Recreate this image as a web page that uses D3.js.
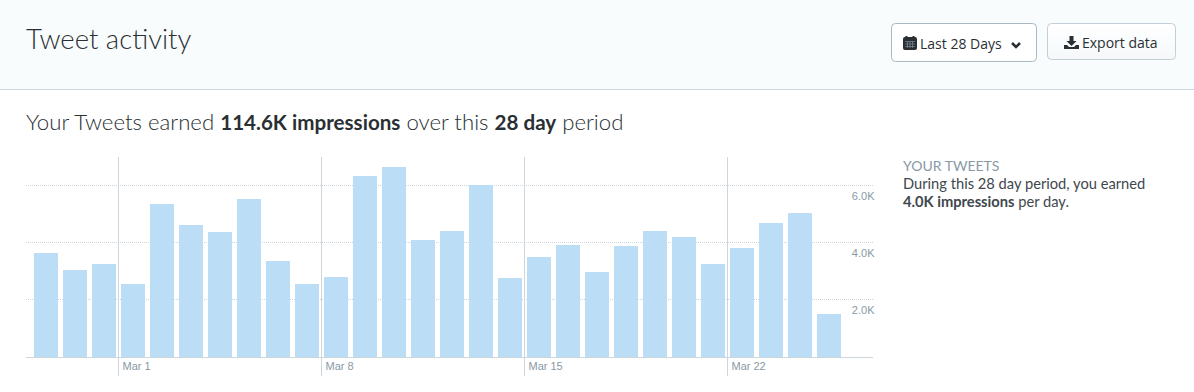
<!DOCTYPE html>
<html>
<head>
<meta charset="utf-8">
<script src="https://cdnjs.cloudflare.com/ajax/libs/d3/7.8.5/d3.min.js"></script>
<style>
    html, body { margin: 0; padding: 0; background: #fff; overflow: hidden; }
    svg { display: block; }
    .head { font-family: Lato, sans-serif; fill: #292f33; }
    .tick text { font-family: "Liberation Sans", Arial, sans-serif; font-size: 11px; fill: #8899a6; }
    .btn { font-family: "Open Sans", sans-serif; font-size: 14px; font-weight: 500; fill: #292f33; }
    .note { font-family: Lato, sans-serif; font-size: 14.7px; fill: #40484d; }
</style>
</head>
<body>
<svg id="chart" width="1194" height="392"></svg>
<script>
const days = ["Feb 26", "Feb 27", "Feb 28", "Mar 1", "Mar 2", "Mar 3", "Mar 4", "Mar 5", "Mar 6", "Mar 7",
    "Mar 8", "Mar 9", "Mar 10", "Mar 11", "Mar 12", "Mar 13", "Mar 14", "Mar 15", "Mar 16", "Mar 17",
    "Mar 18", "Mar 19", "Mar 20", "Mar 21", "Mar 22", "Mar 23", "Mar 24", "Mar 25"];
const impressions = [3650, 3050, 3260, 2560, 5370, 4630, 4390, 5540, 3370, 2560,
    2810, 6350, 6670, 4110, 4420, 6040, 2770, 3510, 3930, 2980,
    3900, 4420, 4210, 3260, 3820, 4700, 5050, 1510];
const weekTicks = ["Mar 1", "Mar 8", "Mar 15", "Mar 22"];
const valueTicks = [2000, 4000, 6000];

const svg = d3.select("#chart");

const grad = svg.append("defs").append("linearGradient").attr("id", "btnFill")
    .attr("x1", 0).attr("x2", 0).attr("y1", 0).attr("y2", 1);
grad.append("stop").attr("offset", 0).attr("stop-color", "#ffffff");
grad.append("stop").attr("offset", 1).attr("stop-color", "#f5f8fa");

// header band
svg.append("rect").attr("width", 1194).attr("height", 89.5).attr("fill", "#f9fcfd");
svg.append("line").attr("x1", 0).attr("x2", 1194).attr("y1", 89.5).attr("y2", 89.5).attr("stroke", "#ccd6dd");

svg.append("text").attr("class", "head").attr("x", 26).attr("y", 49)
    .attr("font-size", 27.5).attr("font-weight", 300).text("Tweet activity");

const summary = svg.append("text").attr("class", "head").attr("x", 26).attr("y", 130)
    .attr("font-size", 22.2).attr("font-weight", 300);
summary.append("tspan").text("Your Tweets earned ");
summary.append("tspan").attr("font-weight", 700).attr("font-size", 20.6).text("114.6K impressions");
summary.append("tspan").text(" over this ");
summary.append("tspan").attr("font-weight", 700).attr("font-size", 20.6).text("28 day");
summary.append("tspan").text(" period");

// buttons
svg.append("rect").attr("x", 891.5).attr("y", 23.5).attr("width", 145).attr("height", 38).attr("rx", 4)
    .attr("fill", "#fff").attr("stroke", "#a9b8c2");
svg.append("text").attr("class", "btn").attr("x", 920).attr("y", 49).text("Last 28 Days");
svg.append("path").attr("d", "M1012 43l4 4l4 -4").attr("fill", "none").attr("stroke", "#292f33").attr("stroke-width", 2.6);
const cal = svg.append("g").attr("transform", "translate(903,36)");
cal.append("rect").attr("y", 1).attr("width", 14).attr("height", 13).attr("rx", 2).attr("fill", "#292f33");
cal.append("path").attr("d", "M3.5 0v3M10.5 0v3").attr("stroke", "#292f33").attr("stroke-width", 2);
cal.append("path").attr("d", "M2 5.5h10M2 8h10M2 10.5h10M4.5 5v7M7 5v7M9.5 5v7").attr("stroke", "#8899a6").attr("stroke-width", 0.6);

svg.append("rect").attr("x", 1047.5).attr("y", 23.5).attr("width", 128).attr("height", 36).attr("rx", 4)
    .attr("fill", "url(#btnFill)").attr("stroke", "#c3ced6");
svg.append("text").attr("class", "btn").attr("x", 1082).attr("y", 48).text("Export data");
svg.append("path").attr("transform", "translate(1064,36)")
    .attr("d", "M5.5 0h4v5h3l-5 5l-5 -5h3zM0 9h3l2 2h5l2 -2h3v4h-15z").attr("fill", "#292f33");

// chart
const x = d3.scaleBand().domain(days).range([34, 841]).paddingInner(5 / 29).paddingOuter(0);
const y = d3.scaleLinear().domain([0, 7000]).rangeRound([357, 157.5]);

svg.append("g").selectAll("line").data(valueTicks).join("line")
    .attr("x1", 26).attr("x2", 873)
    .attr("y1", d => y(d) - 0.5).attr("y2", d => y(d) - 0.5)
    .attr("stroke", "#ccd6dd").attr("stroke-dasharray", "1,1");

svg.append("g").selectAll("rect").data(days).join("rect")
    .attr("x", d => x(d)).attr("width", x.bandwidth())
    .attr("y", (d, i) => y(impressions[i])).attr("height", (d, i) => y(0) - y(impressions[i]))
    .attr("fill", "#bbddf5");

// week lines sit just left of their bar
const weekX = d => Math.floor(x(d) - 2.5) + 0.5;
svg.append("g").selectAll("line").data(weekTicks).join("line")
    .attr("x1", weekX).attr("x2", weekX)
    .attr("y1", 157).attr("y2", 376).attr("stroke", "#ccd6dd");

const labelScale = d3.scaleOrdinal().domain(weekTicks).range(weekTicks.map(d => x(d) + 1));
const xAxis = svg.append("g").attr("transform", "translate(0,357)")
    .call(d3.axisBottom(labelScale).tickSize(0).tickPadding(5));
xAxis.select(".domain").remove();
xAxis.selectAll("text").attr("text-anchor", "start");
svg.append("line").attr("x1", 26).attr("x2", 873).attr("y1", 357.5).attr("y2", 357.5).attr("stroke", "#ccd6dd");

const yAxis = svg.append("g").attr("transform", "translate(874.5,0)")
    .call(d3.axisLeft(y).tickValues(valueTicks).tickSize(0).tickPadding(0).tickFormat(d => d3.format(".1f")(d / 1000) + "K"));
yAxis.select(".domain").remove();
yAxis.selectAll("text").attr("dy", "0").attr("transform", "translate(0,13.5)");

// side note
svg.append("text").attr("class", "note").attr("x", 903).attr("y", 171).style("font-size", "14px")
    .style("fill", "#8899a6").text("YOUR TWEETS");
svg.append("text").attr("class", "note").attr("x", 903).attr("y", 189)
    .text("During this 28 day period, you earned");
const note = svg.append("text").attr("class", "note").attr("x", 903).attr("y", 207);
note.append("tspan").attr("font-weight", 700).text("4.0K impressions");
note.append("tspan").text(" per day.");
</script>
</body>
</html>
